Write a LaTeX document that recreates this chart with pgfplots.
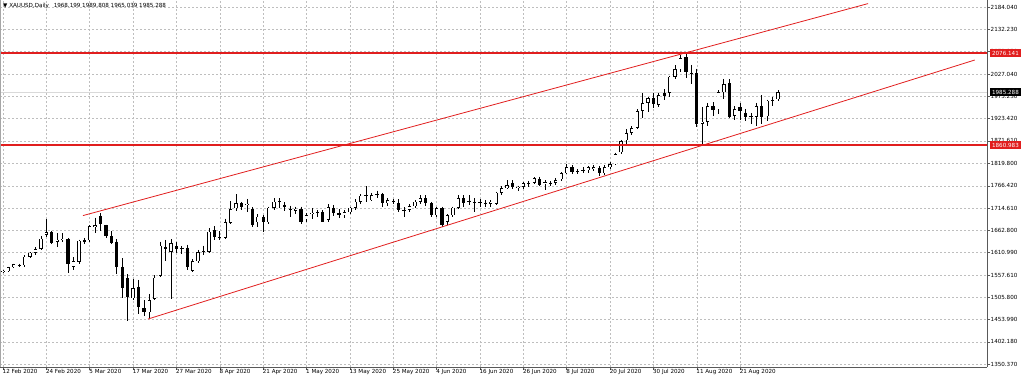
\documentclass[border=0pt]{standalone}
\usepackage{pgfplots}
\pgfplotsset{compat=1.18}
\usepackage{pgfplotstable}
\usepackage{fontspec}
\setmainfont{DejaVu Sans}
\definecolor{mtred}{RGB}{225,30,30}
\definecolor{mtgrid}{RGB}{190,190,190}
\newcommand\mtfont{\fontsize{5.6}{6.4}\selectfont}

\pgfplotstableread{
i o h l c
0 1565 1570 1562 1568
1 1567 1578 1565 1576
2 1576 1585 1574 1583
3 1582 1585 1577 1580
4 1581 1604 1578 1601
5 1601 1612 1598 1610
6 1610 1623 1605 1619
7 1619 1649 1617 1643
8 1652 1689 1648 1658
9 1659 1662 1630 1634
10 1636 1656 1624 1641
11 1640 1656 1636 1643
12 1643 1645 1563 1585
13 1578 1600 1570 1590
14 1589 1641 1585 1638
15 1640 1645 1630 1636
16 1639 1674 1636 1672
17 1671 1692 1657 1674
18 1696 1703 1660 1677
19 1674 1676 1645 1649
20 1649 1660 1630 1634
21 1636 1642 1560 1577
22 1577 1597 1504 1527
23 1551 1560 1450 1508
24 1504 1548 1500 1527
25 1531 1547 1467 1484
26 1481 1500 1462 1472
27 1471 1514 1455 1499
28 1502 1558 1499 1552
29 1556 1636 1553 1627
30 1624 1640 1590 1618
31 1612 1642 1502 1633
32 1625 1635 1610 1618
33 1620 1626 1607 1622
34 1622 1629 1570 1577
35 1568 1595 1565 1590
36 1590 1617 1586 1612
37 1612 1627 1605 1614
38 1612 1667 1610 1659
39 1663 1672 1640 1647
40 1646 1660 1640 1644
41 1645 1690 1643 1682
42 1680 1730 1678 1712
43 1714 1747 1707 1726
44 1726 1729 1710 1717
45 1722 1736 1705 1725
46 1712 1716 1670 1675
47 1681 1700 1670 1694
48 1694 1698 1659 1682
49 1681 1718 1678 1715
50 1715 1738 1711 1729
51 1728 1738 1715 1730
52 1722 1728 1708 1717
53 1713 1720 1694 1711
54 1708 1718 1700 1713
55 1712 1718 1678 1681
56 1688 1703 1682 1698
57 1700 1715 1690 1704
58 1703 1710 1694 1705
59 1705 1710 1681 1683
60 1687 1724 1683 1717
61 1715 1722 1696 1703
62 1703 1712 1692 1698
63 1698 1710 1692 1705
64 1705 1718 1700 1715
65 1715 1735 1710 1729
66 1729 1747 1725 1743
67 1744 1766 1729 1742
68 1733 1750 1730 1745
69 1746 1755 1737 1748
70 1747 1750 1718 1726
71 1726 1738 1720 1733
72 1730 1735 1724 1728
73 1726 1735 1706 1710
74 1711 1717 1694 1709
75 1710 1723 1705 1719
76 1719 1733 1714 1729
77 1729 1745 1725 1738
78 1738 1744 1720 1726
79 1726 1729 1693 1698
80 1698 1718 1693 1714
81 1714 1718 1670 1675
82 1682 1700 1675 1698
83 1698 1718 1694 1715
84 1715 1745 1712 1738
85 1738 1744 1718 1727
86 1730 1745 1722 1732
87 1729 1737 1705 1727
88 1726 1735 1718 1728
89 1727 1733 1718 1725
90 1724 1733 1717 1729
91 1724 1753 1721 1750
92 1750 1765 1745 1761
93 1761 1780 1758 1768
94 1773 1779 1760 1764
95 1761 1767 1755 1764
96 1764 1776 1760 1773
97 1773 1778 1764 1772
98 1773 1786 1770 1784
99 1782 1788 1765 1768
100 1772 1779 1757 1775
101 1774 1777 1766 1773
102 1773 1784 1768 1780
103 1782 1798 1778 1796
104 1796 1818 1793 1810
105 1810 1815 1794 1799
106 1800 1806 1795 1801
107 1802 1810 1796 1804
108 1803 1813 1797 1810
109 1806 1815 1801 1810
110 1808 1813 1790 1796
111 1796 1815 1792 1810
112 1810 1821 1806 1817
113 1817 1844 1814 1840
114 1845 1874 1840 1871
115 1873 1898 1860 1890
116 1890 1906 1884 1901
117 1902 1945 1899 1941
118 1941 1983 1925 1960
119 1960 1975 1940 1971
120 1971 1983 1948 1958
121 1955 1984 1950 1978
122 1983 1992 1967 1976
123 1983 2024 1975 2021
124 2021 2048 2016 2039
125 2039 2072 2033 2065
126 2067 2078 2018 2032
127 2031 2049 2005 2029
128 2030 2040 1904 1911
129 1912 1950 1862 1916
130 1916 1960 1905 1953
131 1953 1962 1930 1944
132 1945 1990 1935 1985
133 1985 2016 1970 2004
134 2006 2015 1925 1927
135 1930 1952 1920 1946
136 1950 1960 1920 1941
137 1937 1946 1917 1928
138 1930 1937 1912 1927
139 1927 1960 1905 1953
140 1953 1978 1912 1927
141 1929 1968 1918 1965
142 1965 1975 1952 1967
143 1968.199 1989.808 1965.039 1985.288
}\ohlc
% derived columns for drawing the candles
\pgfplotstablecreatecol[create col/expr={\thisrow{h}-\thisrow{l}}]{rng}\ohlc
\pgfplotstablecreatecol[create col/expr={max(\thisrow{o},\thisrow{c})}]{top}\ohlc
\pgfplotstablecreatecol[create col/expr={max(abs(\thisrow{c}-\thisrow{o}),1.4)}]{blen}\ohlc
\pgfplotstablecreatecol[create col/expr={max(\thisrow{o},\thisrow{c})-1.4}]{itop}\ohlc
\pgfplotstablecreatecol[create col/expr={max(\thisrow{c}-\thisrow{o}-2.8,0)}]{ilen}\ohlc

% level lines
\pgfplotstableread{
x y
-0.5535 2076.141
181.55 2076.141
}\levA
\pgfplotstableread{
x y
-0.5535 1860.983
181.55 1860.983
}\levB

\begin{document}
\begin{tikzpicture}[x=1pt,y=1pt]
\useasboundingbox (0,0) rectangle (1024,-381);
\begin{axis}[
  at={(0pt,0pt)}, anchor=north west,
  scale only axis, width=987pt, height=367pt,
  xmin=-0.5535, xmax=181.55, ymin=1343.37, ymax=2200.39,
  axis x line*=bottom, axis y line*=right,
  axis line style={black!65, line width=0.7pt},
  tick align=outside, major tick length=3pt,
  tick style={black!65, line width=0.5pt},
  clip mode=individual,
  grid=major,
  major grid style={mtgrid, dash pattern=on 2pt off 2pt, line width=0.5pt},
  xtick={0,8,...,136},
  xticklabels={12 Feb 2020,24 Feb 2020,5 Mar 2020,17 Mar 2020,27 Mar 2020,8 Apr 2020,21 Apr 2020,1 May 2020,13 May 2020,25 May 2020,4 Jun 2020,16 Jun 2020,26 Jun 2020,8 Jul 2020,20 Jul 2020,30 Jul 2020,11 Aug 2020,21 Aug 2020},
  xticklabel style={anchor=north west, font=\mtfont, inner sep=0.5pt, xshift=-1pt, yshift=1.5pt},
  ytick={1350.37,1402.18,1453.99,1505.80,1557.61,1610.99,1662.80,1714.61,1766.42,1819.80,1871.61,1923.42,1975.23,2027.04,2079.85,2132.23,2184.04},
  yticklabels={1350.370,1402.180,1453.990,1505.800,1557.610,1610.990,1662.800,1714.610,1766.420,1819.800,1871.610,1923.420,1975.230,2027.040,2079.850,2132.230,2184.040},
  yticklabel style={anchor=west, font=\mtfont, inner sep=0.5pt},
  scaled y ticks=false,
]
% bid line
\addplot[draw=black!15, line width=1pt, forget plot] coordinates {(-0.5535,1985.288) (181.55,1985.288)};
% wicks
\addplot[draw=none, mark=none, forget plot,
  error bars/.cd, y dir=minus, y explicit, error mark=none,
  error bar style={draw=black, line width=0.75pt, solid}]
  table[x=i, y=h, y error=rng] {\ohlc};
% bodies (black)
\addplot[draw=none, mark=none, forget plot,
  error bars/.cd, y dir=minus, y explicit, error mark=none,
  error bar style={draw=black, line width=3.3pt, solid, line cap=butt}]
  table[x=i, y=top, y error=blen] {\ohlc};
% hollow interior of rising candles
\addplot[draw=none, mark=none, forget plot,
  error bars/.cd, y dir=minus, y explicit, error mark=none,
  error bar style={draw=white, line width=2.1pt, solid, line cap=butt}]
  table[x=i, y=itop, y error=ilen] {\ohlc};
% horizontal levels
\addplot[draw=mtred, solid, line width=1.8pt, mark=none, forget plot] table[x=x,y=y] {\levA};
\addplot[draw=mtred, solid, line width=1.8pt, mark=none, forget plot] table[x=x,y=y] {\levB};
% channel
\addplot[draw=mtred, solid, line width=0.8pt, mark=none, forget plot] coordinates {(14.76,1697) (159.6,2192)};
\addplot[draw=mtred, solid, line width=0.8pt, mark=none, forget plot] coordinates {(26.75,1455.4) (179.3,2060.3)};
\coordinate (L1) at (axis cs:181.55,2076.141);
\coordinate (L2) at (axis cs:181.55,1985.288);
\coordinate (L3) at (axis cs:181.55,1860.983);
\end{axis}
\draw[black!35, line width=0.8pt] (0.4,0) -- (0.4,-367);
\node[fill=mtred, text=white, font=\mtfont, anchor=west, inner xsep=2.4pt, inner ysep=0pt, minimum height=8pt] at ([xshift=2.5pt]L1) {2076.141};
\node[fill=black, text=white, font=\mtfont, anchor=west, inner xsep=2.4pt, inner ysep=0pt, minimum height=8pt] at ([xshift=2.5pt]L2) {1985.288};
\node[fill=mtred, text=white, font=\mtfont, anchor=west, inner xsep=2.4pt, inner ysep=0pt, minimum height=8pt] at ([xshift=2.5pt]L3) {1860.983};
\node[font=\mtfont, anchor=west, inner sep=0pt] at (3,-6) {▼ XAUUSD,Daily\hspace{3pt} 1968.199 1989.808 1965.039 1985.288};
\end{tikzpicture}
\end{document}
